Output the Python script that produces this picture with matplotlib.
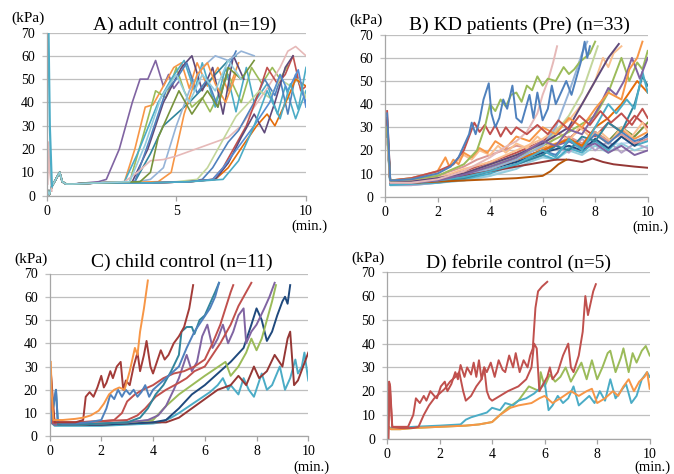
import matplotlib
matplotlib.use("Agg")
import matplotlib.pyplot as plt

plt.rcParams['font.family'] = ['Liberation Serif', 'DejaVu Serif']

W, H = 674, 474

# ---------------- A) adult control ----------------
a_lead_t = [0.0, 0.1, 0.2, 0.35, 0.5, 0.6, 0.75]
a_lead_p = [3, 0.5, 4, 7, 10, 6, 5]
a_spike_t = [0.04, 0.07, 0.12, 0.2]
a_spike_cyan = [75, 70, 30, 4]
a_spike_pink = [5, 23, 10, 2]

a_colors = ['#8064A2', '#F79646', '#9BBB59', '#31859C', '#4BACC6', '#5F497A',
            '#4F81BD', '#95B3D7', '#F79646', '#E6B9B8', '#4F81BD', '#C0504D',
            '#C3D69B', '#E46C0A', '#5F497A', '#558ED5', '#4BACC6', '#77933C',
            '#93CDDD']
a_times = [
    [1, 2, 2.3, 2.8, 3.3, 3.6, 3.9, 4.2, 4.5, 4.7, 4.9, 5.1],
    [1, 2, 3.0, 3.4, 3.8, 4.1, 4.4, 4.9, 5.2, 5.5, 5.8, 6.2, 6.6, 7.0, 7.4],
    [1, 2, 3.2, 3.7, 4.2, 4.6, 5.0, 5.3, 5.6, 6.0, 6.3, 6.7, 7.0, 7.5, 7.9, 8.3, 8.7, 9.0, 9.3],
    [1, 2, 3.4, 4.0, 4.5, 5.0, 5.5, 6.1, 6.5, 7.0, 7.3],
    [1, 2, 3.0, 3.5, 4.3, 4.8, 5.3, 5.7, 6.0, 6.5, 6.9, 7.3, 7.7, 8.0, 8.5, 8.9, 9.2, 9.6, 10],
    [1, 2, 3.3, 3.9, 4.5, 5.2, 5.6, 6.0, 6.4, 6.8, 7.2, 7.6],
    [1, 2, 3.4, 4.0, 4.6, 5.0, 5.4, 5.8, 6.2, 6.6, 7.0, 7.3],
    [1, 2, 3.5, 4.0, 4.5, 5.0, 5.5, 6.0, 6.5, 7.0, 7.5, 8.0],
    [1, 2, 4.3, 4.8, 5.3, 5.8, 6.2, 6.5, 6.9, 7.3],
    [1, 2, 3.0, 3.5, 4.0, 4.5, 5.0, 5.5, 6.0, 6.5, 7.0, 7.5, 8.0, 8.5, 9.0, 9.3, 9.6, 10],
    [1, 2, 4, 5.5, 6.0, 6.4, 7.0, 7.4, 8.0, 8.4, 8.8, 9.0, 9.3, 9.6, 10],
    [1, 2, 4, 5.5, 6.4, 6.8, 7.2, 7.7, 8.2, 8.5, 8.9, 9.2, 9.5, 9.8, 10],
    [1, 2, 4, 5.0, 5.8, 6.2, 6.6, 7.3, 7.8, 8.2, 8.6, 9.0, 9.4, 9.7, 10],
    [1, 2, 4, 5.5, 6.5, 7.0, 7.6, 8.1, 8.5, 8.8, 9.3, 9.6, 10],
    [1, 2, 4, 5.5, 6.5, 7.0, 7.5, 8.0, 8.4, 8.8, 9.2, 9.5],
    [1, 2, 4, 5.5, 6.4, 6.8, 7.2, 7.6, 8.0, 8.6, 9.0, 9.3, 9.7, 10],
    [1, 2, 4, 5.5, 6.8, 7.4, 8.0, 8.5, 9.0, 9.4, 9.7, 10],
    [1, 2, 3.6, 4.0, 4.3, 4.7, 5.1, 5.6, 6.2, 6.6, 7.0, 7.5, 8.0],
    [1, 2, 3.2, 3.8, 4.4, 5.0, 5.5, 6.0, 6.5, 7.0, 7.5],
]
a_kpa = [
    [5, 6, 7, 20, 40, 50, 50, 58, 47, 52, 46, 49],
    [5, 5.5, 6, 20, 38, 39, 45, 55, 57, 46, 57, 47, 55, 45, 57],
    [5, 5.5, 6, 25, 45, 42, 55, 45, 38, 42, 36, 45, 52, 40, 55, 48, 55, 50, 56],
    [5, 5.5, 6, 18, 30, 35, 40, 47, 52, 58, 60],
    [5, 5.5, 6, 18, 40, 50, 58, 45, 57, 38, 55, 36, 55, 40, 48, 35, 47, 33, 45],
    [5, 5.5, 6, 20, 40, 55, 60, 45, 55, 35, 60, 50],
    [5, 5.5, 6, 25, 45, 50, 57, 44, 50, 38, 55, 62],
    [5, 5.5, 6, 7, 12, 30, 45, 55, 60, 58, 62, 60],
    [5, 5.5, 6, 10, 35, 52, 57, 48, 40, 52],
    [5, 5.5, 6, 10, 15, 15.5, 17, 19, 21, 23, 25, 30, 38, 46, 55, 62, 64, 60],
    [5, 5.5, 5.5, 6, 7, 12, 23, 28, 40, 50, 43, 50, 35, 52, 40],
    [5, 5.5, 5.5, 6, 7, 12, 20, 30, 45, 55, 48, 52, 60, 45, 47],
    [5, 5.5, 5.5, 6, 7, 12, 20, 34, 40, 45, 42, 50, 47, 50, 42],
    [5, 5.5, 5.5, 6, 7, 12, 22, 30, 35, 30, 42, 50, 47],
    [5, 5.5, 5.5, 6, 7, 14, 25, 35, 27, 40, 55, 60],
    [5, 5.5, 5.5, 6, 7, 12, 18, 24, 30, 40, 52, 45, 54, 38],
    [5, 5.5, 5.5, 6, 7, 15, 30, 45, 33, 48, 37, 55],
    [5, 5.5, 6, 10, 25, 35, 45, 35, 45, 38, 55, 50, 58],
    [5, 5.5, 6, 22, 42, 52, 40, 52, 45, 58, 50],
]

# ---------------- B) KD patients (Pre) ----------------
b_colors = ['#C6D9F1', '#93CDDD', '#B3A2C7', '#4BACC6', '#F79646', '#77933C',
            '#1F497D', '#8064A2', '#C0504D', '#D99694', '#FAC090', '#4F81BD',
            '#31859C', '#E46C0A', '#9BBB59', '#FAC090', '#C3D69B', '#95B3D7',
            '#5F497A', '#953735', '#B65708', '#4BACC6', '#8064A2', '#F79646',
            '#E6B9B8', '#C0504D', '#9BBB59', '#4F81BD']
b_times = [
    [0.08, 0.2, 1, 2, 3, 4, 5, 6, 7, 8, 9, 10],
    [0.08, 0.2, 1, 2, 3, 4, 5, 5.5, 6, 6.5, 7, 7.5, 8, 8.5, 9, 9.5, 10],
    [0.08, 0.2, 1, 2, 3, 4, 5, 6, 6.5, 7, 7.5, 8, 8.5, 9, 9.5, 10],
    [0.08, 0.2, 1, 2, 3, 4, 5, 5.5, 6, 6.5, 7, 7.5, 8, 8.5, 9, 9.5, 10],
    [0.08, 0.2, 1, 2, 3, 4, 5, 6, 7, 7.5, 8, 8.5, 9, 9.5, 10],
    [0.08, 0.2, 1, 2, 3, 4, 5, 6, 7, 7.5, 8, 8.5, 9, 9.5, 10],
    [0.08, 0.2, 1, 2, 3, 4, 5, 6, 7, 7.5, 8, 8.5, 9, 9.5, 10],
    [0.08, 0.2, 1, 2, 3, 4, 5, 6, 7, 7.5, 8, 8.5, 9, 9.5, 10],
    [0.08, 0.2, 1, 2, 3, 4, 5, 6, 6.5, 7, 7.5, 8, 8.5, 9, 9.5, 10],
    [0.08, 0.2, 1, 2, 3, 3.5, 4.0, 4.5, 5.0, 5.5, 6.0, 6.5, 7.0, 7.5, 8, 8.5, 9, 9.5, 10],
    [0.08, 0.2, 1, 2, 2.6, 3.0, 3.3, 3.6, 4.0, 4.3, 4.6, 5.0, 5.4, 5.8, 6.2, 6.6, 7, 7.4,
     7.8, 8.2, 8.6, 9, 9.4, 9.8, 10],
    [0.08, 0.2, 1, 2, 3, 4, 5, 6, 6.5, 7, 7.5, 8, 8.5, 9, 9.5, 10],
    [0.08, 0.2, 1, 2, 3, 4, 5, 6, 6.5, 7, 7.5, 8, 8.5, 9, 9.5, 9.8, 10],
    [0.08, 0.2, 1, 2, 3, 4, 5, 6, 7, 7.5, 8, 8.5, 9, 9.3, 9.6, 10],
    [0.08, 0.2, 1, 2, 3, 4, 5, 6, 7, 8, 8.5, 9.0, 9.3, 9.6, 9.8, 10],
    [0.08, 0.2, 1, 2, 3, 4, 5, 6, 7, 7.5, 8.0, 8.3, 8.5, 8.7, 9.0],
    [0.08, 0.2, 1, 2, 3, 4, 5, 6, 6.5, 7.0, 7.5, 7.8, 8.1],
    [0.08, 0.2, 1, 2, 3, 4, 5, 6, 6.5, 7.0, 7.3, 7.5, 7.7],
    [0.08, 0.2, 1, 2, 3, 4, 5, 6, 7, 7.5, 8.0, 8.5, 8.9],
    [0.08, 0.2, 1, 2, 3, 4, 5, 6, 6.5, 7.0, 7.5, 7.9, 8.3, 8.7, 9.1, 9.5, 10],
    [0.08, 0.2, 1, 2, 3, 4, 5, 5.5, 6.0, 6.3, 6.6, 6.9],
    [0.08, 0.2, 1, 2, 3, 4, 5, 5.5, 6.0, 6.5, 7.0, 7.5, 8.0, 8.5, 8.8, 9.2, 9.5, 9.8, 10],
    [0.08, 0.2, 1, 2, 3, 4, 5, 5.6, 6.0, 6.5, 7.0, 7.5, 7.9, 8.2, 8.5, 8.8, 9.1, 9.4, 9.7, 10],
    [0.08, 0.2, 1, 2, 2.3, 2.45, 2.6, 2.8, 3.0, 3.3, 3.6, 3.9, 4.2, 4.6, 5.0, 5.5, 6.0, 6.5,
     7.0, 7.5, 8.0, 8.5, 9.0, 9.3, 9.6, 9.8],
    [0.08, 0.2, 1, 2, 3, 4, 4.5, 5.0, 5.4, 5.8, 6.0, 6.2, 6.4, 6.55],
    [0.08, 0.2, 1, 2, 2.6, 3.0, 3.2, 3.4, 3.6, 3.8, 4.0, 4.2, 4.4, 4.6, 4.8, 5.0, 5.4, 5.8,
     6.2, 6.6, 7.0, 7.4, 7.8, 8.2, 8.6, 9.0, 9.4, 9.8, 10],
    [0.08, 0.2, 1, 2, 3, 3.5, 3.8, 4.0, 4.2, 4.4, 4.6, 4.8, 5.0, 5.2, 5.4, 5.6, 5.8, 6.0,
     6.2, 6.5, 6.8, 7.0, 7.2, 7.4, 7.6, 7.8, 8.0],
    [0.08, 0.2, 1, 2, 2.5, 2.8, 3.0, 3.2, 3.3, 3.45, 3.6, 3.75, 3.95, 4.05, 4.2, 4.35, 4.5,
     4.65, 4.85, 5.0, 5.2, 5.35, 5.5, 5.65, 5.8, 6.0, 6.2, 6.35, 6.5, 6.7, 6.9, 7.1, 7.3,
     7.45, 7.6, 7.7, 7.8],
]
b_kpa = [
    [25, 5, 5, 6, 7, 9, 13, 17, 20, 22, 23, 24],
    [28, 5, 5, 6, 7, 9, 12, 15, 17, 16, 20, 18, 22, 19, 23, 20, 22],
    [30, 5, 5, 6, 8, 11, 14, 18, 22, 19, 25, 20, 24, 19, 23, 21],
    [28, 5, 5.5, 6, 7.5, 10, 14, 16, 18, 16, 21, 19, 24, 20, 26, 22, 24],
    [30, 6, 7, 8, 10, 14, 18, 21, 25, 22, 27, 23, 29, 25, 28],
    [28, 6, 6, 7, 9, 12, 16, 20, 25, 22, 28, 24, 30, 26, 32],
    [30, 6, 6, 7, 9, 12, 15, 19, 22, 20, 25, 21, 26, 22, 27],
    [30, 6, 6, 7, 9, 13, 16, 20, 24, 21, 23, 19, 22, 18, 20],
    [34, 6, 6.5, 8, 11, 15, 19, 24, 28, 25, 30, 26, 32, 28, 35, 30],
    [30, 6, 7, 9, 13, 16, 18, 20, 22, 21, 24, 22, 26, 23, 28, 24, 27, 23, 25],
    [28, 7, 8, 10, 14, 18, 16, 20, 18, 22, 19, 23, 21, 26, 22, 28, 24, 30, 26, 28, 24, 30,
     26, 32, 28],
    [30, 6, 6, 7, 9, 12, 16, 20, 18, 24, 21, 27, 23, 28, 24, 26],
    [28, 6, 6, 7, 8, 11, 14, 18, 22, 20, 26, 24, 32, 28, 40, 52, 48],
    [28, 6, 6, 7, 9, 12, 16, 20, 25, 22, 30, 34, 40, 45, 50, 45],
    [28, 6, 6, 7, 9, 13, 17, 22, 28, 35, 45, 60, 50, 58, 55, 63],
    [28, 6, 6, 8, 12, 15, 20, 25, 33, 40, 50, 60, 56, 62, 65],
    [28, 6, 6, 7, 9, 13, 18, 22, 28, 35, 45, 55, 65],
    [30, 6, 6, 7, 9, 12, 16, 22, 30, 45, 55, 62, 67],
    [30, 6, 6.5, 8, 10, 14, 18, 23, 30, 40, 50, 60, 66],
    [33, 6, 6, 7, 9, 11, 13, 15, 16, 16, 15, 16.5, 15, 14, 13.5, 13, 12.5],
    [30, 6, 6, 6.5, 7, 7.5, 8, 8.5, 9, 11, 14, 16],
    [28, 6, 6, 7, 8.5, 11, 14, 17, 20, 17, 25, 20, 30, 40, 36, 42, 38, 54, 45],
    [30, 6, 6, 7, 9.5, 13, 17, 21, 24, 22, 29, 27, 34, 40, 47, 44, 50, 60, 51, 60],
    [30, 7, 8, 11, 17, 13, 16, 14, 19, 17, 21, 19, 24, 21, 26, 24, 30, 27, 34, 30, 38, 45,
     42, 55, 60, 67],
    [25, 6, 6, 7.5, 11, 17, 21, 24, 28, 36, 44, 50, 58, 65],
    [37, 7, 8, 11, 14, 20, 26, 32, 28, 31, 27, 31, 26, 30, 27, 30, 27, 31, 27, 33, 29, 35,
     31, 37, 32, 36, 31, 38, 34],
    [30, 7, 7.5, 9, 14, 20, 30, 40, 37, 42, 39, 44, 45, 41, 48, 46, 52, 48, 51, 50, 56, 53,
     55, 58, 60, 62, 67],
    [36, 7, 7.5, 10, 13, 17, 22, 27, 32, 27, 33, 42, 49, 36, 30, 34, 42, 38, 48, 34, 32, 38,
     44, 34, 45, 33, 38, 48, 40, 45, 50, 44, 52, 58, 67, 60, 65],
]

# ---------------- C) child control ----------------
c_colors = ['#4BACC6', '#953735', '#1F497D', '#9BBB59', '#8064A2', '#C0504D',
            '#C0504D', '#31859C', '#4F81BD', '#A33B38', '#F79646']
c_times = [
    [0.05, 0.2, 1, 2, 3, 4, 4.3, 4.7, 5.0, 5.4, 5.8, 6.2, 6.5, 6.7, 6.9, 7.0, 7.3, 7.5,
     7.7, 7.9, 8.2, 8.4, 8.6, 8.9, 9.1, 9.3, 9.5, 9.6, 9.75, 9.85, 10],
    [0.05, 0.2, 1, 2, 3, 4, 4.5, 5.0, 5.5, 6.0, 6.5, 7.0, 7.3, 7.6, 7.9, 8.1, 8.4, 8.7,
     9.0, 9.2, 9.3, 9.45, 9.6, 9.8, 10],
    [0.05, 0.2, 1, 2, 3, 4, 4.5, 5.0, 5.5, 6.0, 6.5, 7.0, 7.5, 7.8, 8.0, 8.2, 8.4, 8.6,
     8.8, 9.0, 9.1, 9.2, 9.3],
    [0.05, 0.2, 1, 2, 3, 4.0, 4.5, 5.0, 5.5, 6.0, 6.4, 6.8, 7.0, 7.3, 7.6, 7.8, 8.0, 8.2,
     8.4, 8.6, 8.75],
    [0.05, 0.2, 1, 2, 3, 3.8, 4.2, 4.5, 4.8, 5.0, 5.3, 5.5, 5.7, 5.9, 6.1, 6.3, 6.5, 6.7,
     6.9, 7.1, 7.3, 7.5, 7.6, 7.8, 8.0, 8.3, 8.5, 8.7],
    [0.05, 0.1, 0.2, 1, 2, 3.0, 3.4, 3.7, 4.1, 4.5, 5.0, 5.3, 5.6, 6.0, 6.3, 6.6, 7.0,
     7.3, 7.5, 7.8],
    [0.05, 0.1, 0.2, 1, 2, 2.5, 2.8, 3.0, 3.3, 3.6, 4.0, 4.4, 4.8, 5.2, 5.6, 6.0, 6.3, 6.6,
     6.8, 7.0, 7.1],
    [0.05, 0.25, 0.33, 0.5, 1, 2, 3, 3.5, 3.8, 4.1, 4.4, 4.7, 5.0, 5.1, 5.3, 5.5, 5.6, 5.8,
     6.0, 6.2, 6.4, 6.55],
    [0.05, 0.25, 0.32, 0.5, 1, 1.5, 2.0, 2.2, 2.35, 2.5, 2.65, 2.8, 2.95, 3.1, 3.25, 3.4,
     3.55, 3.7, 3.85, 4.0, 4.3, 4.6, 5.0, 5.3, 5.6, 5.9, 6.2, 6.4, 6.55],
    [0.05, 0.1, 0.2, 0.5, 1.0, 1.3, 1.4, 1.55, 1.7, 1.85, 2.0, 2.1, 2.2, 2.35, 2.45, 2.6,
     2.75, 2.85, 2.95, 3.1, 3.25, 3.4, 3.5, 3.65, 3.75, 3.9, 4.0, 4.15, 4.3, 4.45, 4.6,
     4.8, 5.0, 5.2, 5.4, 5.55],
    [0.05, 0.08, 0.15, 0.5, 1.0, 1.3, 1.6, 1.9, 2.1, 2.3, 2.5, 2.7, 2.9, 3.1, 3.2, 3.3,
     3.4, 3.5, 3.65, 3.8],
]
c_kpa = [
    [6, 4.5, 4.5, 4.5, 5, 5.5, 6, 8, 10, 13, 16, 19, 22, 25, 20, 22, 18, 25, 20, 17, 27,
     20, 22, 30, 20, 25, 33, 27, 30, 36, 24],
    [28, 5, 5, 5, 5.5, 6, 6, 8, 12, 16, 20, 22, 26, 22, 30, 25, 28, 35, 30, 42, 45, 22,
     24, 30, 36],
    [6, 5, 5, 5, 5.5, 6, 7, 12, 18, 22, 27, 32, 38, 48, 55, 50, 41, 45, 52, 58, 60, 57, 65],
    [6, 5, 5, 5.5, 6, 7, 13, 18, 22, 26, 29, 32, 26, 30, 36, 42, 37, 42, 50, 58, 65],
    [6, 5, 5, 5.5, 6, 7, 9, 13, 20, 25, 35, 28, 32, 43, 48, 38, 42, 48, 40, 45, 52, 55,
     40, 45, 48, 55, 60, 66],
    [25, 6, 6, 6, 6.5, 7, 9, 12, 17, 20, 23, 25, 28, 30, 35, 40, 48, 56, 60, 66],
    [25, 6, 6, 6, 6.5, 7, 10, 15, 18, 20, 22, 25, 27, 28, 30, 33, 40, 48, 55, 62, 65],
    [6, 20, 5, 5, 5, 5.5, 6, 8, 12, 18, 22, 28, 35, 45, 47, 47, 44, 50, 52, 57, 62, 66],
    [6, 20, 6, 5.5, 5.5, 6, 7, 12, 18, 16, 20, 17, 20, 18, 20, 17, 19, 22, 17, 20, 23, 26,
     30, 38, 45, 50, 55, 60, 66],
    [28, 15, 6, 6, 6, 7, 17, 19, 17, 21, 26, 21, 23, 28, 25, 30, 32, 20, 24, 22, 30, 36,
     28, 35, 41, 30, 27, 32, 37, 33, 35, 40, 43, 47, 55, 65],
    [32, 20, 7, 7, 7.5, 8, 9, 11, 14, 18, 20, 21, 20, 28, 33, 38, 35, 45, 55, 67],
]

# ---------------- D) febrile control ----------------
d_colors = ['#9BBB59', '#4BACC6', '#F79646', '#C0504D', '#C0504D']
d_times = [
    [0.05, 0.15, 0.5, 1, 2, 3, 3.5, 4.0, 4.3, 4.6, 5.0, 5.2, 5.4, 5.6, 5.8, 5.85, 6.0,
     6.2, 6.4, 6.6, 6.8, 7.0, 7.2, 7.4, 7.6, 7.8, 8.0, 8.2, 8.4, 8.5, 8.7, 8.9, 9.0, 9.2,
     9.35, 9.5, 9.7, 9.85, 10],
    [0.05, 0.15, 0.5, 1, 2, 2.8, 3.0, 3.2, 3.5, 3.8, 4.0, 4.3, 4.5, 4.8, 5.0, 5.3, 5.6,
     5.9, 6.0, 6.15, 6.3, 6.5, 6.7, 6.9, 7.1, 7.3, 7.5, 7.7, 7.9, 8.1, 8.3, 8.5, 8.7, 8.9,
     9.1, 9.3, 9.5, 9.7, 9.9, 10],
    [0.05, 0.15, 0.5, 1, 2, 3, 3.5, 4.0, 4.3, 4.7, 5.0, 5.5, 5.8, 6.0, 6.3, 6.6, 7.0, 7.3,
     7.6, 7.8, 8.0, 8.3, 8.6, 8.8, 9.0, 9.2, 9.4, 9.6, 9.8, 9.9, 10],
    [0.05, 0.1, 0.2, 0.5, 1.0, 1.2, 1.4, 1.6, 1.8, 2.0, 2.2, 2.4, 2.6, 2.75, 2.9, 3.0,
     3.2, 3.4, 3.6, 3.7, 3.8, 3.9, 4.0, 4.3, 4.6, 5.0, 5.3, 5.5, 5.6, 5.7, 5.8, 5.9, 6.1,
     6.2, 6.3, 6.5, 6.7, 6.9, 7.0, 7.1, 7.3, 7.45, 7.55, 7.65, 7.75, 7.85, 7.95],
    [0.05, 0.08, 0.12, 0.2, 0.5, 0.8, 1.0, 1.1, 1.25, 1.4, 1.5, 1.65, 1.8, 1.9, 2.05, 2.2,
     2.3, 2.45, 2.6, 2.7, 2.8, 2.95, 3.05, 3.2, 3.3, 3.4, 3.5, 3.6, 3.7, 3.8, 3.95, 4.1,
     4.25, 4.4, 4.5, 4.65, 4.8, 4.9, 5.05, 5.2, 5.35, 5.45, 5.55, 5.65, 5.75, 5.9, 6.0, 6.1],
]
d_kpa = [
    [5, 4, 4, 4.5, 5, 5.5, 6, 7, 10, 13, 16, 19, 22, 21, 20, 28, 22, 27, 24, 26, 30, 24,
     28, 32, 25, 33, 25, 30, 36, 37, 28, 34, 38, 28, 36, 32, 37, 39, 35],
    [5, 4.5, 4.5, 5, 5.5, 6, 8, 9, 10, 11, 13, 12, 15, 14, 16, 17, 19, 22, 24, 12, 14, 18,
     15, 17, 22, 14, 16, 18, 15, 20, 16, 25, 17, 20, 23, 15, 18, 25, 28, 26],
    [5, 4, 4, 4.5, 5, 5.5, 6, 7, 10, 13, 14, 15, 17, 18, 15, 17, 20, 18, 20, 21, 15, 17,
     20, 18, 22, 25, 20, 24, 26, 28, 21],
    [0, 23, 5, 4.5, 4.5, 5, 10, 14, 17, 19, 21, 24, 26, 28, 20, 16, 18, 22, 25, 30, 20, 17,
     16, 18, 20, 22, 25, 30, 40, 38, 20, 22, 26, 30, 25, 28, 35, 40, 30, 28, 35, 45, 60,
     52, 57, 62, 65],
    [0, 24, 22, 5, 5, 5, 10, 17, 15, 18, 16, 20, 18, 17, 22, 24, 20, 23, 28, 25, 31, 26, 30,
     27, 32, 26, 33, 25, 30, 28, 32, 26, 33, 29, 28, 35, 30, 36, 28, 33, 30, 35, 38, 55,
     62, 64, 65, 66],
]

titles = ['A) adult control (n=19)', 'B) KD patients (Pre) (n=33)',
          'C) child control (n=11)', 'D) febrile control (n=5)']


def fx(px):
    return px / W


def fy(py):
    return 1 - py / H


fig = plt.figure(figsize=(W / 100, H / 100), dpi=100)

# axes boxes in pixels: left, top, right, bottom
boxes = [(46.7, 32.5, 306.0, 195.7), (385.0, 34.7, 647.7, 196.7),
         (49.5, 273.5, 308.3, 436.3), (387.0, 272.3, 649.7, 438.7)]
title_pos = [(185, 25), (519, 25), (182, 262), (519, 263)]
xticks = [[0, 5, 10], [0, 2, 4, 6, 8, 10], [0, 2, 4, 6, 8, 10], [0, 2, 4, 6, 8, 10]]
min_dy = [31, 31, 30.5, 29]

axes = []
for i, (l, t, r, b) in enumerate(boxes):
    ax = fig.add_axes([fx(l), fy(b), fx(r - l), (b - t) / H])
    ax.set_xlim(0, 10)
    ax.set_ylim(0, 70)
    ax.set_yticks(range(0, 71, 10))
    ax.set_xticks(xticks[i])
    ax.grid(axis='y', color='#BFBFBF', lw=0.9)
    ax.set_axisbelow(True)
    for s in ['top', 'right']:
        ax.spines[s].set_visible(False)
    for s in ['left', 'bottom']:
        ax.spines[s].set_color('#A6A6A6')
        ax.spines[s].set_linewidth(0.9)
    ax.tick_params(axis='y', length=3.5, width=0.9, color='#BFBFBF', pad=5, labelsize=10)
    ax.tick_params(axis='x', length=3.5, width=0.9, color='#A6A6A6', pad=3, labelsize=10)
    fig.text(fx(title_pos[i][0]), fy(title_pos[i][1]), titles[i], ha='center',
             va='center', fontsize=14)
    fig.text(fx(l - 2), fy(t - 14), '(kPa)', ha='right', va='center', fontsize=11)
    fig.text(fx(r + 3), fy(b + min_dy[i]), '(min.)', ha='center', va='center',
             fontsize=10.5)
    axes.append(ax)

# A
ax = axes[0]
for col, tt, pp in zip(a_colors, a_times, a_kpa):
    ax.plot(a_lead_t + tt, a_lead_p + pp, color=col, lw=1.2, solid_joinstyle='round')
ax.plot(a_spike_t, a_spike_pink, color='#E6B9B8', lw=1.2)
ax.plot(a_spike_t, a_spike_cyan, color='#4BACC6', lw=1.6)

# B, C, D
for ax, cols, ts, ps in [(axes[1], b_colors, b_times, b_kpa),
                         (axes[2], c_colors, c_times, c_kpa),
                         (axes[3], d_colors, d_times, d_kpa)]:
    for col, tt, pp in zip(cols, ts, ps):
        ax.plot(tt, pp, color=col, lw=1.4, solid_joinstyle='round')

fig.savefig('out.png', dpi=100)
